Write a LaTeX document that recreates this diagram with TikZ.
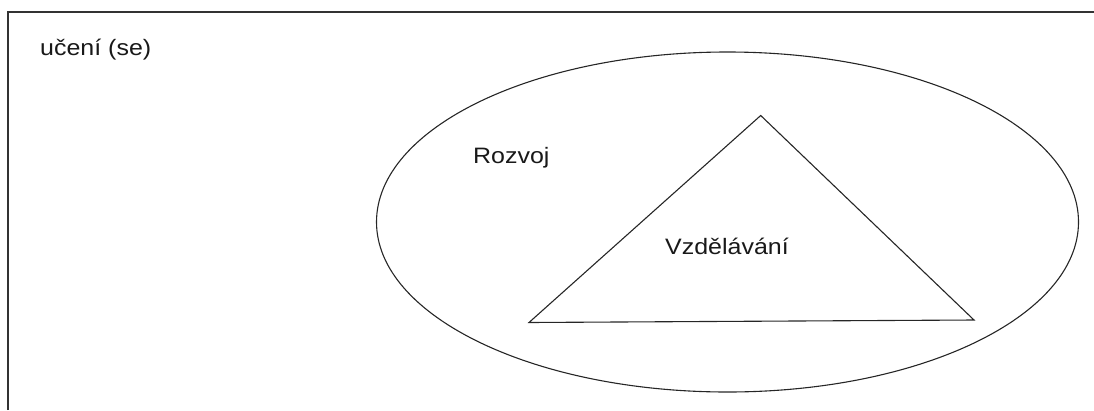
\documentclass[tikz,border=0pt]{standalone}
\usepackage{fontspec}
\setmainfont{Liberation Sans}[FakeStretch=1.12]
\begin{document}
\begin{tikzpicture}[x=1pt,y=-1pt,
  outline/.style={draw=black!85, line width=1.1pt},
  label/.style={anchor=base west, inner sep=0pt, text=black!90,
    font=\fontsize{22.3}{26}\selectfont}]
  \useasboundingbox (0,0) rectangle (1094,410);
  % frame edges
  \draw[draw=black!80, line width=1.4pt] (8,410) -- (8,12) -- (1094,12);
  % outer ellipse and inner triangle
  \draw[outline] (727.5,222) ellipse [x radius=351, y radius=170];
  \coordinate (apex) at (760.7,115.5);
  \coordinate (bl) at (529,322.5);
  \coordinate (br) at (974,320);
  \draw[outline, line join=miter] (apex) -- (br) -- (bl) -- cycle;
  % labels
  \node[label] (uceni) at (40,55) {učení (se)};
  \node[label] (rozvoj) at (473,163) {Rozvoj};
  \node[label] (vzdel) at (665,254) {Vzdělávání};
\end{tikzpicture}
\end{document}
